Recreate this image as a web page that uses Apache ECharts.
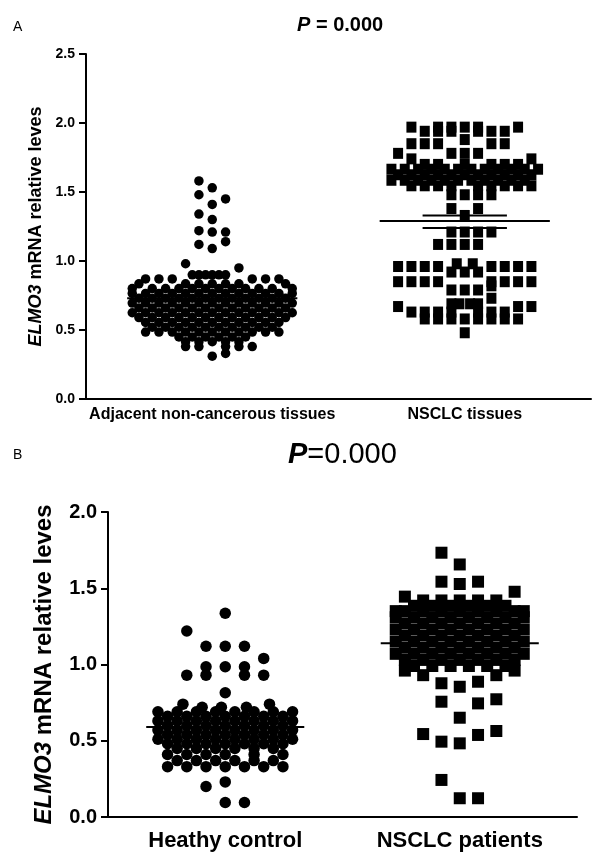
<!DOCTYPE html>
<html>
<head>
<meta charset="utf-8">
<title>ELMO3 mRNA relative levels</title>
<script src="https://cdn.jsdelivr.net/npm/echarts@6/dist/echarts.min.js"></script>
<style>
  html, body { margin: 0; padding: 0; background: #fff; }
  #chart { width: 600px; height: 864px; }
</style>
</head>
<body>
<div id="chart"></div>
<script>
// 分类与刻度
const catsA = ['Adjacent non-cancerous tissues', 'NSCLC tissues'];
const catsB = ['Heathy control', 'NSCLC patients'];
const ticksA = [0, 0.5, 1.0, 1.5, 2.0, 2.5];
const ticksB = [0, 0.5, 1.0, 1.5, 2.0];

// 每行: [数值, [横向列位置]]
const adjacentRows = [
    [1.58, [-1]], [1.53, [0]], [1.48, [-1]], [1.45, [1]], [1.41, [0]], [1.34, [-1]], [1.30, [0]],
    [1.22, [-1]], [1.21, [0, 1]], [1.14, [1]], [1.12, [-1]], [1.09, [0]],
    [0.98, [-2]], [0.95, [2]],
    [0.90, [-1.5, -1, -0.5, 0, 0.5, 1]],
    [0.87, [-5, -4, -3, 3, 4, 5]],
    [0.835, [-5.5, -2, -1, 0, 1, 2, 5.5]],
    [0.80, [-6, -4.5, -3.5, -2.5, -1.5, -0.5, 0.5, 1.5, 2.5, 3.5, 4.5, 6]],
    [0.765, [-6, -5, -4, -3, -2, -1, 0, 1, 2, 3, 4, 5, 6]],
    [0.73, [-5.5, -4.5, -3.5, -2.5, -1.5, -0.5, 0.5, 1.5, 2.5, 3.5, 4.5, 5.5]],
    [0.695, [-6, -5, -4, -3, -2, -1, 0, 1, 2, 3, 4, 5, 6]],
    [0.66, [-5.5, -4.5, -3.5, -2.5, -1.5, -0.5, 0.5, 1.5, 2.5, 3.5, 4.5, 5.5]],
    [0.625, [-6, -5, -4, -3, -2, -1, 0, 1, 2, 3, 4, 5, 6]],
    [0.59, [-5.5, -4.5, -3.5, -2.5, -1.5, -0.5, 0.5, 1.5, 2.5, 3.5, 4.5, 5.5]],
    [0.555, [-5, -4, -3, -2, -1, 0, 1, 2, 3, 4, 5]],
    [0.52, [-4.5, -3.5, -2.5, -1.5, -0.5, 0.5, 1.5, 2.5, 3.5, 4.5]],
    [0.485, [-5, -4, -3, -2, -1, 0, 1, 2, 3, 4, 5]],
    [0.45, [-2.5, -1.5, -0.5, 0.5, 1.5, 2.5]],
    [0.415, [-2, -1, 0, 1, 2]],
    [0.38, [-2, -1, 1, 2, 3]],
    [0.33, [1]], [0.31, [0]]
];
const tissueRows = [
    [1.97, [-4, -2, -1, 0, 1, 4]],
    [1.94, [-3, -2, -1, 1, 2, 3]],
    [1.88, [0]],
    [1.85, [-4, -3, -2, 2, 3]],
    [1.78, [-5, -1, 0, 1]],
    [1.74, [-4, 5]],
    [1.70, [-3, -2, 0, 2, 3, 4]],
    [1.665, [-5.5, -4.5, -3.5, -2.5, -1.5, -0.5, 0.5, 1.5, 2.5, 3.5, 4.5, 5.5]],
    [1.625, [-5, -4, -3, -2, -1, 0, 1, 2, 3, 4, 5]],
    [1.585, [-5.5, -4.5, -3.5, -2.5, -1.5, -0.5, 0.5, 1.5, 2.5, 3.5, 4.5]],
    [1.545, [-4, -3, -2, -1, 1, 2, 3, 4, 5]],
    [1.48, [-1, 0, 1, 2]],
    [1.38, [-1, 1]],
    [1.33, [0]],
    [1.21, [-1, 0, 1, 2]],
    [1.12, [-2, -1, 0, 1]],
    [0.98, [-0.6, 0.6]],
    [0.96, [-5, -4, -3, -2, 2, 3, 4, 5]],
    [0.92, [-1, 0, 1]],
    [0.85, [-5, -4, -3, -2, 2, 3, 4, 5]],
    [0.82, [2]],
    [0.79, [-1, 0, 1]],
    [0.73, [2]],
    [0.69, [-1, -0.4, 0.4, 1]],
    [0.67, [-5, 4, 5]],
    [0.63, [-4, -3, -2, -1, 1, 2, 3]],
    [0.58, [-3, -2, -1, 0, 1, 2, 3, 4]],
    [0.48, [0]]
];
const controlRows = [
    [1.336, [0]], [1.22, [-2]], [1.12, [-1, 0, 1]], [1.04, [2]], [0.985, [-1, 0, 1]],
    [0.93, [-2, -1, 1, 2]], [0.815, [0]],
    [0.74, [-2.2, 2.3]],
    [0.72, [-1.2, -0.2, 1.1]],
    [0.69, [-3.5, -2.5, -1.5, -0.5, 0.5, 1.5, 2.5, 3.5]],
    [0.66, [-3, -2, -1, 0, 1, 2, 3]],
    [0.63, [-3.5, -2.5, -1.5, -0.5, 0.5, 1.5, 2.5, 3.5]],
    [0.60, [-3, -2, -1, 0, 1, 2, 3]],
    [0.57, [-3.5, -2.5, -1.5, -0.5, 0.5, 1.5, 2.5, 3.5]],
    [0.54, [-3, -2, -1, 0, 1, 2, 3]],
    [0.51, [-3.5, -2.5, -1.5, -0.5, 0.5, 1.5, 2.5, 3.5]],
    [0.48, [-3, -2, -1, 0, 1, 2, 3]],
    [0.45, [-2.5, -1.5, -0.5, 0.5, 1.5, 2.5]],
    [0.41, [-3, -2, -1, 0, 1.5, 3]],
    [0.37, [-2.5, -1.5, -0.5, 0.5, 1.5, 2.5]],
    [0.33, [-3, -2, -1, 0, 1, 2, 3]],
    [0.23, [0]], [0.20, [-1]], [0.095, [0, 1]]
];
const patientRows = [
    [1.733, [-1]], [1.656, [0]], [1.543, [-1, 1]], [1.528, [0]], [1.445, [-3]], [1.477, [3]],
    [1.42, [-2, -1, 0, 1, 2]],
    [1.385, [-2.5, -1.5, -0.5, 0.5, 1.5, 2.5]],
    [1.35, [-3.5, -3, -2, -1, 0, 1, 2, 3, 3.5]],
    [1.31, [-3.5, -2.5, -1.5, -0.5, 0.5, 1.5, 2.5, 3.5]],
    [1.27, [-3, -2, -1, 0, 1, 2, 3]],
    [1.23, [-3.5, -2.5, -1.5, -0.5, 0.5, 1.5, 2.5, 3.5]],
    [1.19, [-3, -2, -1, 0, 1, 2, 3]],
    [1.15, [-3.5, -2.5, -1.5, -0.5, 0.5, 1.5, 2.5, 3.5]],
    [1.11, [-3, -2, -1, 0, 1, 2, 3]],
    [1.07, [-3.5, -2.5, -1.5, -0.5, 0.5, 1.5, 2.5, 3.5]],
    [1.03, [-3, -2, -1, 0, 1, 2, 3]],
    [0.99, [-2.5, -1.5, -0.5, 0.5, 1.5, 2.5]],
    [0.96, [-3, 3]], [0.93, [-2, 2]],
    [0.887, [1]], [0.877, [-1]], [0.854, [0]],
    [0.772, [2]], [0.756, [-1]], [0.745, [1]],
    [0.651, [0]],
    [0.564, [2]], [0.544, [-2]], [0.538, [1]], [0.494, [-1]], [0.483, [0]],
    [0.243, [-1]], [0.123, [0, 1]]
];

// 均值与标准误
const meanA = [0.73, 1.29];
const semA2 = [1.24, 1.33];
const meanB = [0.59, 1.14];

const FONT = 'Liberation Sans, Arial, sans-serif';

function swarm(rows, center, step) {
    const out = [];
    rows.forEach(([v, cols]) => cols.forEach(c => out.push([center + c * step, v])));
    return out;
}

function hline(center, half, y) {
    return [[center - half, y], [center + half, y]];
}

function lineSeries(xIdx, yIdx, data, width) {
    return {
        type: 'line', xAxisIndex: xIdx, yAxisIndex: yIdx, data: data,
        symbol: 'none', silent: true, z: 5,
        lineStyle: { color: '#000', width: width, opacity: 1 }
    };
}

function catAxis(gridIndex, data, fontSize, margin) {
    return {
        type: 'category', gridIndex: gridIndex, data: data,
        axisLine: { lineStyle: { color: '#000', width: 2 } },
        axisTick: { alignWithLabel: true, length: 6, lineStyle: { color: '#000', width: 2 } },
        axisLabel: {
            interval: 0, color: '#000', fontWeight: 'bold', fontSize: fontSize,
            fontFamily: FONT, margin: margin
        }
    };
}

function valAxis(gridIndex, max, fontSize, nameSize, nameGap) {
    return {
        type: 'value', gridIndex: gridIndex, min: 0, max: max, interval: 0.5,
        name: '{i|ELMO3} mRNA relative leves',
        nameLocation: 'middle', nameGap: nameGap,
        nameTextStyle: {
            color: '#000', fontWeight: 'bold', fontSize: nameSize, fontFamily: FONT,
            rich: { i: { fontStyle: 'italic', fontWeight: 'bold', fontSize: nameSize, fontFamily: FONT, color: '#000' } }
        },
        axisLine: { show: true, lineStyle: { color: '#000', width: 2 } },
        axisTick: { show: true, length: 7, lineStyle: { color: '#000', width: 2 } },
        splitLine: { show: false },
        axisLabel: {
            color: '#000', fontWeight: 'bold', fontSize: fontSize, fontFamily: FONT, margin: 11,
            formatter: v => v.toFixed(1)
        }
    };
}

const chart = echarts.init(document.getElementById('chart'));

// 散点默认透明度为 0.8, 这里改成纯黑
const dotStyle = { color: '#000', opacity: 1 };

const option = {
    animation: false,
    backgroundColor: '#fff',
    title: [
        { text: 'A', left: 8, top: 15, textStyle: { fontSize: 14, fontWeight: 'normal', color: '#000', fontFamily: FONT } },
        {
            text: '{p|P} = 0.000', left: 292, top: 10,
            textStyle: {
                fontSize: 20, fontWeight: 'bold', color: '#000', fontFamily: FONT,
                rich: { p: { fontStyle: 'italic', fontWeight: 'bold', fontSize: 20, fontFamily: FONT, color: '#000' } }
            }
        },
        { text: 'B', left: 8, top: 443, textStyle: { fontSize: 14, fontWeight: 'normal', color: '#000', fontFamily: FONT } },
        {
            text: '{p|P}=0.000', left: 283, top: 435,
            textStyle: {
                fontSize: 29, fontWeight: 'normal', color: '#000', fontFamily: FONT,
                rich: { p: { fontStyle: 'italic', fontWeight: 'bold', fontSize: 29, fontFamily: FONT, color: '#000' } }
            }
        }
    ],
    grid: [
        { left: 86, right: 9, top: 54, bottom: 465 },
        { left: 108, right: 23, top: 512, bottom: 47 }
    ],
    xAxis: [
        catAxis(0, catsA, 16, 8),
        { type: 'value', gridIndex: 0, min: 0.5, max: 2.5, show: false },
        catAxis(1, catsB, 22, 13),
        { type: 'value', gridIndex: 1, min: 0.5, max: 2.5, show: false }
    ],
    yAxis: [
        valAxis(0, ticksA[ticksA.length - 1], 14, 18, 38),
        valAxis(1, ticksB[ticksB.length - 1], 20, 24, 52)
    ],
    series: [
        {
            type: 'scatter', xAxisIndex: 1, yAxisIndex: 0, symbol: 'circle', symbolSize: 9.5,
            data: swarm(adjacentRows, 1, 0.0528), itemStyle: dotStyle
        },
        {
            type: 'scatter', xAxisIndex: 1, yAxisIndex: 0, symbol: 'rect', symbolSize: [10, 11],
            data: swarm(tissueRows, 2, 0.0528), itemStyle: dotStyle
        },
        lineSeries(1, 0, hline(1, 0.337, meanA[0]), 2),
        lineSeries(1, 0, hline(2, 0.337, meanA[1]), 2),
        lineSeries(1, 0, hline(2, 0.167, semA2[0]), 2),
        lineSeries(1, 0, hline(2, 0.167, semA2[1]), 2),
        {
            type: 'scatter', xAxisIndex: 3, yAxisIndex: 1, symbol: 'circle', symbolSize: 11.5,
            data: swarm(controlRows, 1, 0.082), itemStyle: dotStyle
        },
        {
            type: 'scatter', xAxisIndex: 3, yAxisIndex: 1, symbol: 'rect', symbolSize: 12,
            data: swarm(patientRows, 2, 0.078), itemStyle: dotStyle
        },
        lineSeries(3, 1, hline(1, 0.337, meanB[0]), 2),
        lineSeries(3, 1, hline(2, 0.337, meanB[1]), 2)
    ]
};

chart.setOption(option);
</script>
</body>
</html>
